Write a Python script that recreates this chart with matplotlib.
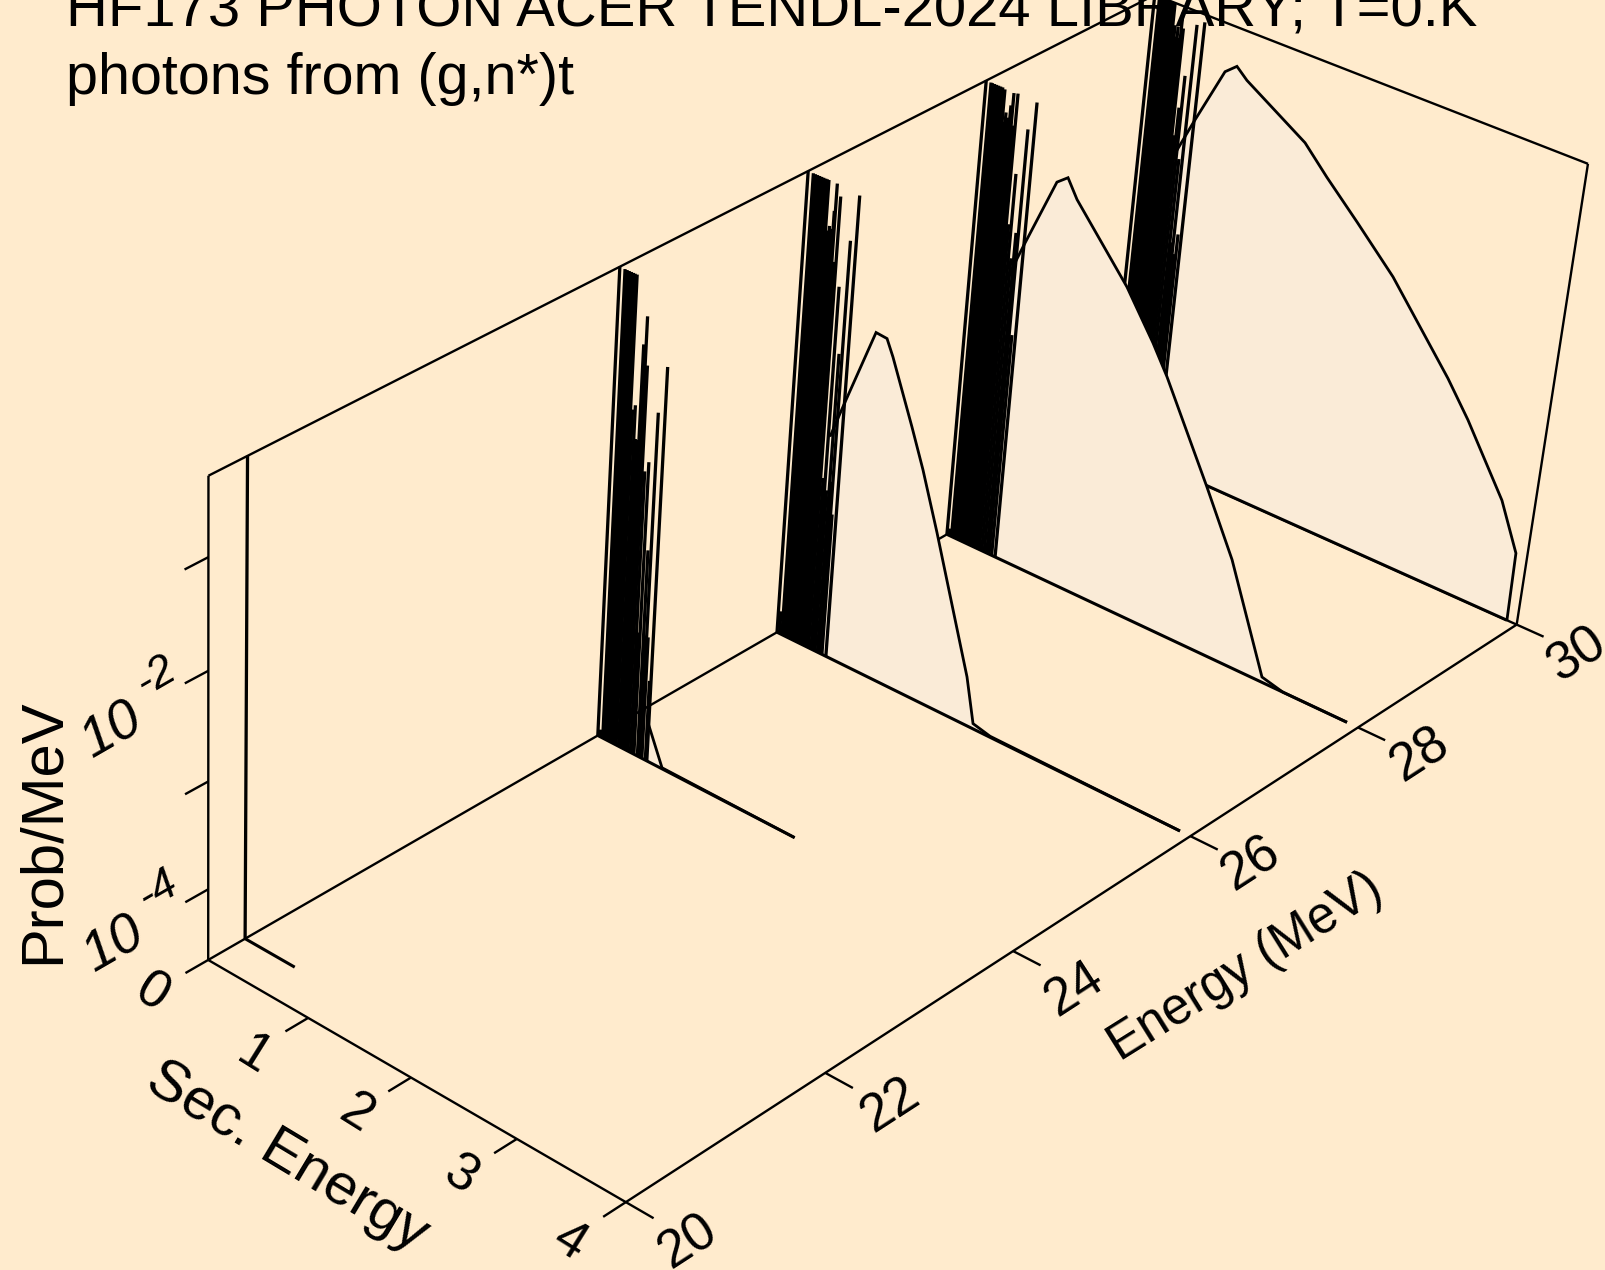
import matplotlib

matplotlib.use("Agg")
import matplotlib.pyplot as plt
import numpy as np

plt.rcParams["font.family"] = ["Liberation Sans", "DejaVu Sans"]

BG_COLOR = "#FFEBCD"
FILL_COLOR = "#FAEBD7"

TITLE_LINES = ["HF173 PHOTON ACER TENDL-2024 LIBRARY; T=0.K", "photons from (g,n*)t"]
ENERGY_TICKS = [20, 22, 24, 26, 28, 30]
SEC_TICKS = [0, 1, 2, 3, 4]
LOG_TICKS = [-4, -3, -2, -1]
ZMIN, ZMAX = -4.67, -0.30

# incident energies of the slices, back to front
slice_energies = [30, 28, 26, 24, 20.36]

# discrete lines per slice: secondary energy, log10(prob/MeV)
line_s_30 = [0, 0.025, 0.047, 0.06, 0.08, 0.10, 0.12, 0.14, 0.16, 0.18, 0.198, 0.22, 0.235, 0.25, 0.265, 0.281, 0.30, 0.32, 0.339, 0.363, 0.39, 0.405, 0.423, 0.44, 0.46, 0.493]
line_z_30 = [-0.30, -3.5, -0.30, -0.30, -0.30, -0.30, -0.30, -0.30, -0.30, -0.30, -0.30, -0.5, -0.6, -0.5, -0.6, -0.36, -0.5, -1.5, -1.23, -0.92, -1.7, -2.5, -0.42, -2.6, -2.4, -0.37]
line_s_28 = [0, 0.025, 0.047, 0.06, 0.08, 0.10, 0.12, 0.14, 0.16, 0.182, 0.197, 0.211, 0.23, 0.251, 0.269, 0.29, 0.307, 0.33, 0.355, 0.38, 0.406, 0.429, 0.455, 0.49]
line_z_28 = [-0.30, -4.6, -0.30, -0.30, -0.30, -0.30, -0.30, -0.30, -0.30, -0.31, -0.6, -0.51, -0.55, -0.43, -0.31, -0.6, -0.30, -1.5, -1.02, -1.8, -1.55, -0.58, -2.5, -0.31]
line_s_26 = [0, 0.025, 0.05, 0.07, 0.09, 0.11, 0.13, 0.15, 0.17, 0.185, 0.20, 0.215, 0.235, 0.25, 0.27, 0.28, 0.30, 0.32, 0.345, 0.365, 0.385, 0.41, 0.425, 0.44, 0.455, 0.495]
line_z_26 = [-0.30, -4.45, -0.30, -0.30, -0.30, -0.30, -0.30, -0.30, -0.30, -0.30, -0.30, -0.75, -0.70, -0.72, -0.55, -0.30, -1.0, -0.40, -3.0, -1.2, -3.1, -1.8, -3.0, -0.75, -3.3, -0.32]
line_s_24 = [0, 0.025, 0.05, 0.07, 0.09, 0.11, 0.13, 0.147, 0.155, 0.166, 0.185, 0.21, 0.225, 0.245, 0.26, 0.283, 0.305, 0.33, 0.35, 0.365, 0.40, 0.415, 0.43, 0.445, 0.48, 0.495]
line_z_24 = [-0.30, -4.6, -0.30, -0.30, -0.30, -0.30, -0.30, -0.30, -0.72, -0.30, -1.5, -1.45, -1.75, -1.75, -0.88, -0.62, -1.05, -2.0, -3.5, -1.9, -2.7, -3.5, -1.42, -3.5, -3.9, -0.98]
line_s_20 = [0]
line_z_20 = [-0.30]

# continuum per slice
cont_s_30 = [0.333, 0.485, 0.729, 0.833, 0.939, 1.534, 1.769, 2.089, 2.473, 3.081, 3.308, 3.707, 3.898, 3.909]
cont_z_30 = [-1.70, -1.32, -0.74, -0.65, -0.74, -1.09, -1.32, -1.61, -1.97, -2.68, -2.98, -3.58, -4.01, -4.67]
cont_s_28 = [0.368, 0.483, 0.742, 0.84, 0.942, 1.478, 1.767, 1.927, 2.399, 2.70, 3.096, 3.30, 3.898]
cont_z_28 = [-1.98, -1.65, -0.94, -0.86, -1.02, -1.61, -2.01, -2.26, -3.10, -3.66, -4.62, -4.67, -4.67]
cont_s_26 = [0.381, 0.484, 0.741, 0.847, 0.915, 1.143, 1.277, 1.455, 1.85, 1.945, 2.113, 3.904]
cont_z_26 = [-2.59, -2.26, -1.46, -1.47, -1.61, -2.16, -2.50, -3.01, -4.21, -4.62, -4.66, -4.67]
cont_s_24 = [0.487, 0.647, 1.95]
cont_z_24 = [-4.30, -4.66, -4.67]
cont_s_20 = [0.50]
cont_z_20 = [-4.67]

slice_lines = [(line_s_30, line_z_30), (line_s_28, line_z_28), (line_s_26, line_z_26), (line_s_24, line_z_24), (line_s_20, line_z_20)]
slice_conts = [(cont_s_30, cont_z_30), (cont_s_28, cont_z_28), (cont_s_26, cont_z_26), (cont_s_24, cont_z_24), (cont_s_20, cont_z_20)]

# where known box corners and ticks land on the page, used to fit the camera
CAMERA_POINTS = [
    (20, 0, ZMIN, 208, 960), (20, 0, ZMAX, 208, 476), (20, 4, ZMIN, 624, 1203),
    (30, 4, ZMIN, 1517, 623), (30, 4, ZMAX, 1587, 163), (30, 0, ZMAX, 1157, -5),
    (22, 4, ZMIN, 827, 1073), (24, 4, ZMIN, 1013, 952), (26, 4, ZMIN, 1189, 837), (28, 4, ZMIN, 1358, 727),
    (20, 1, ZMIN, 309, 1018), (20, 2, ZMIN, 412, 1078), (20, 3, ZMIN, 519, 1139),
    (20, 0, -4, 208, 888), (20, 0, -3, 208, 780), (20, 0, -2, 208, 670), (20, 0, -1, 208, 557),
    (24, 0, ZMIN, 597, 735), (24, 0, ZMAX, 620, 267), (26, 0, ZMIN, 776, 633), (26, 0, ZMAX, 808, 172),
    (28, 0, ZMIN, 947, 535), (28, 0, ZMAX, 986, 81),
]


def fit_camera(points):
    rows, rhs = [], []
    for e, s, z, x, y in points:
        v = [e - 20, s, z - ZMIN, 1]
        rows.append(v + [0, 0, 0, 0] + [-x * a for a in v[:3]])
        rhs.append(x)
        rows.append([0, 0, 0, 0] + v + [-y * a for a in v[:3]])
        rhs.append(y)
    sol = np.linalg.lstsq(np.array(rows, float), np.array(rhs, float), rcond=None)[0]
    return np.append(sol, 1).reshape(3, 4)


CAMERA = fit_camera(CAMERA_POINTS)


def project(energy, sec, logp):
    energy, sec, logp = np.broadcast_arrays(energy, sec, logp)
    u = CAMERA @ np.vstack([energy - 20.0, sec, logp - ZMIN, np.ones(energy.shape)])
    return u[0] / u[2], u[1] / u[2]


def draw3d(ax, energy, sec, logp, lw=1.7, zorder=1):
    x, y = project(np.atleast_1d(energy).astype(float), np.atleast_1d(sec).astype(float), np.atleast_1d(logp).astype(float))
    ax.plot(x, y, color="black", lw=lw, solid_capstyle="butt", solid_joinstyle="miter", clip_on=False, zorder=zorder)


def draw_slice(ax, energy, lines, cont, zorder):
    line_s, line_z = lines
    cont_s, cont_z = cont
    poly_s = [cont_s[0]] + cont_s + [cont_s[-1]]
    poly_z = [ZMIN] + cont_z + [ZMIN]
    x, y = project(float(energy), np.array(poly_s, float), np.array(poly_z, float))
    ax.fill(x, y, color=FILL_COLOR, lw=0, zorder=zorder)

    for s, z in zip(line_s, line_z):
        draw3d(ax, energy, [s, s], [ZMIN, z], lw=2.35, zorder=zorder + 1)
    draw3d(ax, energy, cont_s, cont_z, lw=2.0, zorder=zorder + 1)
    draw3d(ax, energy, [0, cont_s[-1]], [ZMIN, ZMIN], lw=2.2, zorder=zorder + 1)


def draw_box(ax):
    draw3d(ax, [20, 30], [0, 0], [ZMIN, ZMIN])
    draw3d(ax, [20, 20], [0, 0], [ZMIN, ZMAX])
    draw3d(ax, [20, 30], [0, 0], [ZMAX, ZMAX])
    draw3d(ax, [30, 30], [0, 4], [ZMAX, ZMAX])
    draw3d(ax, [30, 30], [4, 4], [ZMIN, ZMAX])
    draw3d(ax, [30, 30], [0, 4], [ZMIN, ZMIN])


def draw_front(ax):
    draw3d(ax, [20, 20], [0, 4], [ZMIN, ZMIN], zorder=50)
    draw3d(ax, [20, 30], [4, 4], [ZMIN, ZMIN], zorder=50)
    for e in ENERGY_TICKS:
        draw3d(ax, [e, e], [4, 4.25], [ZMIN, ZMIN], zorder=50)
    for s in SEC_TICKS:
        draw3d(ax, [20, 19.78], [s, s], [ZMIN, ZMIN], zorder=50)
    for z in LOG_TICKS:
        draw3d(ax, [20, 19.78], [0, 0], [z, z], zorder=50)


def add_labels(ax):
    ax.text(66, 26, TITLE_LINES[0], fontsize=41.75, va="baseline", ha="left", zorder=60)
    ax.text(66, 93.5, TITLE_LINES[1], fontsize=41.4, va="baseline", ha="left", zorder=60)

    center = dict(ha="center", va="center", rotation_mode="anchor", zorder=60)
    ax.text(43, 831, "Prob/MeV", fontsize=43, rotation=90, **center)
    ax.text(287, 1157, "Sec. Energy", fontsize=42, rotation=-31, **center)
    ax.text(1246, 967, "Energy (MeV)", fontsize=36.5, rotation=32, **center)

    for label, x, y in [("0", 152, 993), ("1", 254, 1056), ("2", 356, 1114), ("3", 460, 1175), ("4", 570, 1242)]:
        ax.text(x, y, label, fontsize=38, rotation=-32, **center)
    for e, x, y in zip(ENERGY_TICKS, [688, 890, 1074, 1251, 1420, 1577], [1242, 1105, 989, 864, 755, 655]):
        ax.text(x, y, str(e), fontsize=38, rotation=33, **center)
    for exp, x, y in [("-4", 114, 945), ("-2", 112, 731)]:
        ax.text(x, y, "10", fontsize=40, rotation=30, style="italic", **center)
        ax.text(x + 44, y - 55, exp, fontsize=32, rotation=30, style="italic", **center)


def main():
    fig = plt.figure(figsize=(16.05, 12.7), dpi=100, facecolor=BG_COLOR)
    ax = fig.add_axes([0, 0, 1, 1])
    ax.set_xlim(0, 1605)
    ax.set_ylim(1270, 0)
    ax.axis("off")

    draw_box(ax)
    for i, (energy, lines, cont) in enumerate(zip(slice_energies, slice_lines, slice_conts)):
        draw_slice(ax, energy, lines, cont, zorder=10 + 5 * i)
    draw_front(ax)
    add_labels(ax)

    fig.savefig("out.png", dpi=100, facecolor=BG_COLOR)


if __name__ == "__main__":
    main()
